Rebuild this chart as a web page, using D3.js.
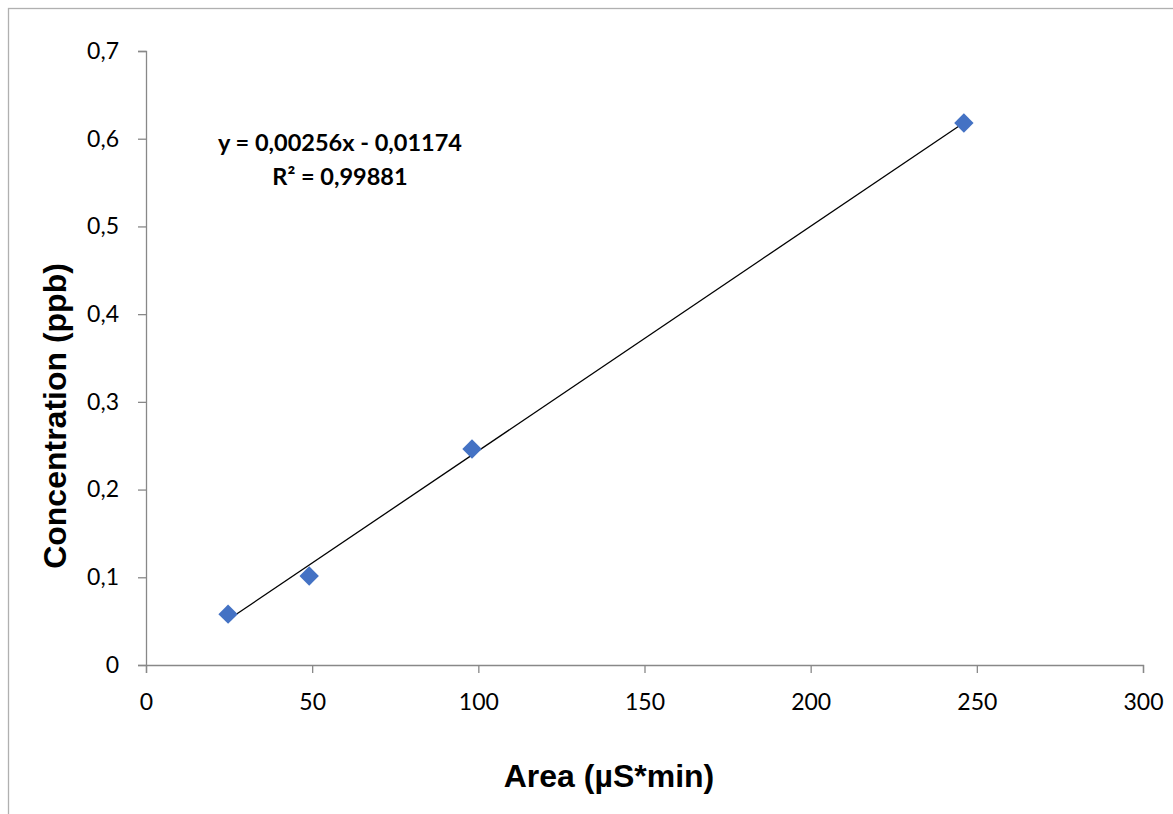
<!DOCTYPE html>
<html>
<head>
<meta charset="utf-8">
<script src="https://cdn.jsdelivr.net/npm/d3@7"></script>
<style>
  body { margin: 0; background: #fff; }
  .tick text { font-family: Lato, "Open Sans", sans-serif; font-size: 23px; fill: #000; }
</style>
</head>
<body>
<div id="chart"></div>
<script>
// calibration points
const areaValues = [24.7, 49.1, 98.1, 246.1];
const concValues = [0.058, 0.1015, 0.2463, 0.618];
const xTicks = [0, 50, 100, 150, 200, 250, 300];
const yTicks = [0, 0.1, 0.2, 0.3, 0.4, 0.5, 0.6, 0.7];
const slope = 0.00256;
const intercept = -0.01174;
const equationLines = ["y = 0,00256x - 0,01174", "R² = 0,99881"];

const width = 1173, height = 814;
const margin = { top: 51, right: 30, bottom: 149, left: 146 };

const svg = d3.select("#chart").append("svg")
  .attr("width", width)
  .attr("height", height);

// outer chart frame
svg.append("rect")
  .attr("x", 8.5).attr("y", 8.5)
  .attr("width", width + 20).attr("height", height + 20)
  .attr("fill", "none")
  .attr("stroke", "#b0b0b0")
  .attr("stroke-width", 1.3);

const x = d3.scaleLinear().domain([0, 300]).range([margin.left, 1143]);
const y = d3.scaleLinear().domain([0, 0.7]).range([665, margin.top]);

const xAxis = svg.append("g")
  .attr("transform", `translate(0, ${y(0)})`)
  .call(d3.axisBottom(x).tickValues(xTicks).tickSize(8).tickPadding(21).tickFormat(d3.format("d")));
xAxis.select(".domain").attr("stroke", "#888").attr("stroke-width", 1.3);
xAxis.selectAll(".tick line").attr("stroke", "#888").attr("stroke-width", 1.3);

const yAxis = svg.append("g")
  .attr("transform", `translate(${x(0)}, 0)`)
  .call(d3.axisLeft(y).tickValues(yTicks).tickSize(8).tickPadding(19)
    .tickFormat(d => d === 0 ? "0" : d3.format(".1f")(d).replace(".", ",")));
yAxis.select(".domain").attr("stroke", "#888").attr("stroke-width", 1.3);
yAxis.selectAll(".tick line").attr("stroke", "#888").attr("stroke-width", 1.3);

// linear trendline over the data range
const xMin = d3.min(areaValues), xMax = d3.max(areaValues);
svg.append("line")
  .attr("x1", x(xMin)).attr("y1", y(slope * xMin + intercept))
  .attr("x2", x(xMax)).attr("y2", y(slope * xMax + intercept))
  .attr("stroke", "#000")
  .attr("stroke-width", 1.3);

// diamond markers
const points = areaValues.map((a, i) => ({ a, c: concValues[i] }));
svg.selectAll(".pt")
  .data(points)
  .enter()
  .append("path")
  .attr("class", "pt")
  .attr("d", d3.symbol().type(d3.symbolDiamond2).size(240))
  .attr("transform", d => `translate(${x(d.a)}, ${y(d.c)})`)
  .attr("fill", "#4472C4");

// equation label
svg.append("g")
  .selectAll("text")
  .data(equationLines)
  .enter()
  .append("text")
  .attr("x", 340)
  .attr("y", (d, i) => 151 + i * 34)
  .attr("text-anchor", "middle")
  .style("font-family", "Lato, 'Open Sans', sans-serif")
  .style("font-weight", "bold")
  .style("font-size", "23.5px")
  .text(d => d);

// axis titles
svg.append("text")
  .attr("x", 609).attr("y", 787)
  .attr("text-anchor", "middle")
  .style("font-family", "'Liberation Sans', Arial, sans-serif")
  .style("font-weight", "bold")
  .style("font-size", "32px")
  .text("Area (µS*min)");

svg.append("text")
  .attr("transform", "translate(66, 416) rotate(-90)")
  .attr("text-anchor", "middle")
  .style("font-family", "'Liberation Sans', Arial, sans-serif")
  .style("font-weight", "bold")
  .style("font-size", "32px")
  .text("Concentration (ppb)");
</script>
</body>
</html>
